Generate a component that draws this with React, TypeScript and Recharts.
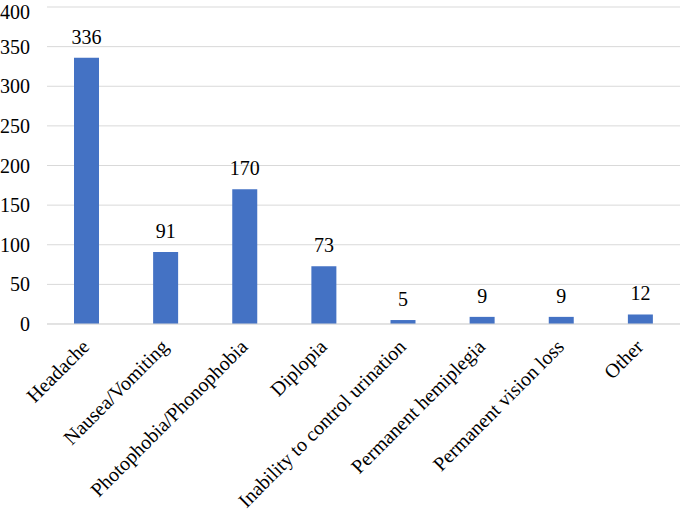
import { Bar, BarChart, CartesianGrid, LabelList, XAxis, YAxis } from "recharts"

const categories = [
  "Headache",
  "Nausea/Vomiting",
  "Photophobia/Phonophobia",
  "Diplopia",
  "Inability to control urination",
  "Permanent hemiplegia",
  "Permanent vision loss",
  "Other",
]
const counts = [336, 91, 170, 73, 5, 9, 9, 12]
const yTicks = [0, 50, 100, 150, 200, 250, 300, 350, 400]

const data = categories.map((name, i) => ({ name, count: counts[i] }))

const font = "Liberation Serif, Times New Roman, serif"

const SlantTick = ({ x, y, payload }: any) => (
  <text
    x={x + 4}
    y={y + 16}
    transform={`rotate(-45, ${x + 4}, ${y + 16})`}
    textAnchor="end"
    style={{ fontFamily: font, fontSize: 20 }}
    fill="#000"
  >
    {payload.value}
  </text>
)

export default function App() {
  return (
    <div style={{ position: "absolute", left: 0, top: 0, background: "#fff", fontFamily: font }}>
      <BarChart width={685} height={511} data={data} margin={{ top: 7, right: 5, left: 0, bottom: 0 }}>
        <CartesianGrid vertical={false} stroke="#d9d9d9" />
        <XAxis
          dataKey="name"
          interval={0}
          height={187}
          tickLine={false}
          axisLine={{ stroke: "#d9d9d9" }}
          tick={<SlantTick />}
        />
        <YAxis
          width={47}
          domain={[0, 400]}
          ticks={yTicks}
          axisLine={false}
          tickLine={false}
          tickMargin={11}
          tick={{ fontFamily: font, fontSize: 20, fill: "#000", style: { fontFamily: font } }}
        />
        <Bar dataKey="count" fill="#4472C4" barSize={25} isAnimationActive={false}>
          <LabelList
            dataKey="count"
            position="top"
            offset={14}
            fontFamily={font}
            fontSize={20}
            fill="#000"
            style={{ fontFamily: font }}
          />
        </Bar>
      </BarChart>
    </div>
  )
}
